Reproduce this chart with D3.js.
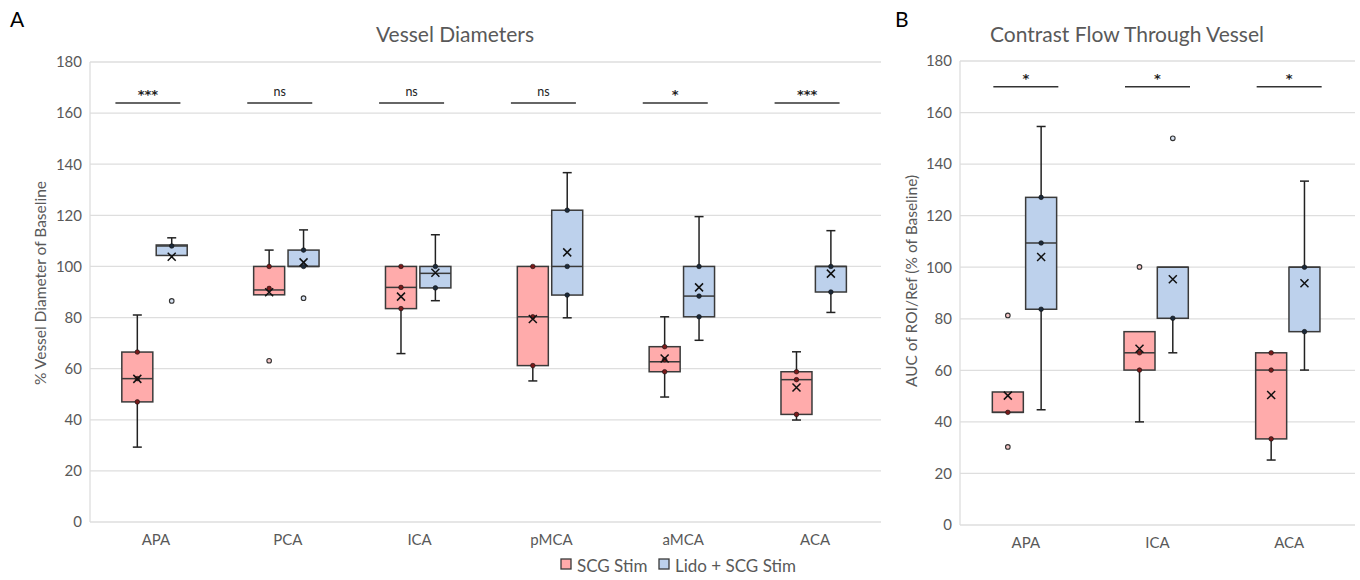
<!DOCTYPE html>
<html><head><meta charset="utf-8">
<script src="https://cdn.jsdelivr.net/npm/d3@7"></script>
<style>body{margin:0;background:#fff}svg{display:block}text{font-family:Lato,"Open Sans",sans-serif}</style>
</head><body><svg id="c" width="1360" height="580"></svg>
<script>
// ---------- Data ----------
const categoriesA = ["APA","PCA","ICA","pMCA","aMCA","ACA"];
const categoriesB = ["APA","ICA","ACA"];
const yTicks = [0,20,40,60,80,100,120,140,160,180];
const seriesNames = ["SCG Stim","Lido + SCG Stim"];

// Panel A – SCG Stim
const scgA_min  = [29.3, 88.9, 65.9, 55.2, 48.9, 39.9];
const scgA_q1   = [47.0, 88.9, 83.5, 61.2, 58.8, 42.1];
const scgA_med  = [56.1, 90.8, 91.8, 80.3, 62.7, 55.7];
const scgA_q3   = [66.5, 100, 100, 100, 68.6, 58.8];
const scgA_max  = [81.0, 106.4, 100, 100, 80.3, 66.6];
const scgA_mean = [56.0, 89.9, 88.2, 79.4, 64.0, 52.6];
const scgA_pts  = [[66.5,56.1,47.0],[100,91.4],[100,91.8,83.5],[100,80.3,61.2],[68.6,63.5,58.8],[58.8,55.7,42.1]];
const scgA_out  = [[],[63.1],[],[],[],[]];
// Panel A – Lido + SCG Stim
const lidoA_min  = [104.3, 100, 86.6, 79.9, 71.1, 82.0];
const lidoA_q1   = [104.3, 100, 91.6, 88.8, 80.3, 90.0];
const lidoA_med  = [108.0, 100, 97.3, 100, 88.4, 100];
const lidoA_q3   = [108.4, 106.4, 100, 122.0, 100, 100];
const lidoA_max  = [111.2, 114.3, 112.4, 136.7, 119.5, 114.0];
const lidoA_mean = [103.8, 101.6, 97.5, 105.5, 91.8, 97.2];
const lidoA_pts  = [[108.0],[106.4,100],[100,91.6],[122.0,100,88.8],[100,88.4,80.3],[100,90.0]];
const lidoA_out  = [[86.5],[87.6],[],[],[],[]];
const sigA = ["***","ns","ns","ns","*","***"];
const sigA_level = 164;

// Panel B – SCG Stim
const scgB_min  = [43.7, 40.0, 25.2];
const scgB_q1   = [43.7, 60.1, 33.4];
const scgB_med  = [43.7, 66.8, 60.1];
const scgB_q3   = [51.6, 75.0, 66.8];
const scgB_max  = [51.6, 75.0, 66.8];
const scgB_mean = [50.2, 68.4, 50.4];
const scgB_pts  = [[43.7],[66.8,60.1],[66.8,60.1,33.4]];
const scgB_out  = [[81.3,30.3],[100.1],[]];
// Panel B – Lido + SCG Stim
const lidoB_min  = [44.7, 66.8, 60.1];
const lidoB_q1   = [83.7, 80.2, 75.0];
const lidoB_med  = [109.4, 100, 100];
const lidoB_q3   = [127.1, 100, 100];
const lidoB_max  = [154.6, 100, 133.4];
const lidoB_mean = [104.0, 95.3, 93.8];
const lidoB_pts  = [[127.1,109.4,83.7],[80.2],[100,75.0]];
const lidoB_out  = [[],[150.0],[]];
const sigB = ["*","*","*"];
const sigB_level = 170;

// ---------- Styles ----------
const fills = ["#ffabab", "#bdd1ec"];
const ptFills = ["#7a1a1a", "#1c2a3a"];
const outFills = ["#f4c7c7", "#d8e3f3"];
const stroke = "#3a3a3a";
const gridCol = "#dedede";
const textCol = "#595959";

const svg = d3.select("#c");

function build(cats, s0, s1) {
  return cats.map((c,i)=>({cat:c, series:[0,1].map(k=>{
    const s = k===0 ? s0 : s1;
    return {k, min:s.min[i], q1:s.q1[i], med:s.med[i], q3:s.q3[i], max:s.max[i], mean:s.mean[i], pts:s.pts[i], out:s.out[i]};
  })}));
}

function panel(opts) {
  const {x0,x1,y0,y1,cats,data,sig,sigLevel,sigOff,title,titleX,ytitle,ytitleX,ytitleY,letter,letterX,offs} = opts;
  const g = svg.append("g");
  const x = d3.scaleBand().domain(cats).range([x0,x1]);
  const y = d3.scaleLinear().domain([0,180]).range([y1,y0]);

  // grid
  g.selectAll("line.grid").data(yTicks).join("line")
    .attr("x1",x0).attr("x2",x1).attr("y1",d=>y(d)).attr("y2",d=>y(d))
    .attr("stroke",gridCol).attr("stroke-width",1.3);
  g.append("line").attr("x1",x0).attr("x2",x0).attr("y1",y0).attr("y2",y1)
    .attr("stroke",gridCol).attr("stroke-width",1.3);

  // y axis labels
  const ax = g.append("g").attr("transform",`translate(${x0},0)`)
    .call(d3.axisLeft(y).tickValues(yTicks).tickSize(0).tickPadding(8));
  ax.select(".domain").remove();
  ax.selectAll("text").attr("fill",textCol).style("font-size","15px").style("font-family","Lato,'Open Sans',sans-serif");

  // x axis labels
  const bx = g.append("g").attr("transform",`translate(0,${y1})`)
    .call(d3.axisBottom(x).tickSize(0).tickPadding(12));
  bx.select(".domain").remove();
  bx.selectAll("text").attr("fill",textCol).style("font-size","15px").style("font-family","Lato,'Open Sans',sans-serif");

  // titles
  g.append("text").attr("x",titleX).attr("y",42).attr("text-anchor","middle")
    .attr("fill",textCol).style("font-size","21px").text(title);
  g.append("text").attr("transform",`translate(${ytitleX},${ytitleY}) rotate(-90)`)
    .attr("text-anchor","middle").attr("fill",textCol).style("font-size","15.5px").text(ytitle);
  g.append("text").attr("x",letterX).attr("y",27).attr("fill","#000").style("font-size","21px").text(letter);

  // significance
  const sg = g.selectAll("g.sig").data(cats).join("g");
  sg.append("line")
    .attr("x1",d=>x(d)+x.bandwidth()/2+sigOff-32.5).attr("x2",d=>x(d)+x.bandwidth()/2+sigOff+32.5)
    .attr("y1",y(sigLevel)).attr("y2",y(sigLevel)).attr("stroke","#333").attr("stroke-width",1.5);
  sg.append("text").attr("x",d=>x(d)+x.bandwidth()/2+sigOff)
    .attr("y",(d,i)=>y(sigLevel) - (sig[i]==="ns"?7:4))
    .attr("text-anchor","middle").attr("fill","#222")
    .style("font-family",(d,i)=>sig[i]==="ns"?"Lato,sans-serif":"'DejaVu Sans',sans-serif")
    .style("font-weight",(d,i)=>sig[i]==="ns"?"normal":"bold")
    .style("font-size",(d,i)=>sig[i]==="ns"?"12.5px":"13px").text((d,i)=>sig[i]);

  // boxes
  const W = 31, cap = 9;
  data.forEach(d=>{
    const c = x(d.cat)+x.bandwidth()/2;
    d.series.forEach(s=>{
      const cx = c + offs[s.k];
      const bg = g.append("g");
      bg.append("line").attr("x1",cx).attr("x2",cx).attr("y1",y(s.q3)).attr("y2",y(s.max)).attr("stroke","#222").attr("stroke-width",1.5);
      bg.append("line").attr("x1",cx).attr("x2",cx).attr("y1",y(s.q1)).attr("y2",y(s.min)).attr("stroke","#222").attr("stroke-width",1.5);
      if (s.max > s.q3) bg.append("line").attr("x1",cx-cap/2).attr("x2",cx+cap/2).attr("y1",y(s.max)).attr("y2",y(s.max)).attr("stroke","#222").attr("stroke-width",1.5);
      if (s.min < s.q1) bg.append("line").attr("x1",cx-cap/2).attr("x2",cx+cap/2).attr("y1",y(s.min)).attr("y2",y(s.min)).attr("stroke","#222").attr("stroke-width",1.5);
      bg.append("rect").attr("x",cx-W/2).attr("width",W).attr("y",y(s.q3)).attr("height",y(s.q1)-y(s.q3))
        .attr("fill",fills[s.k]).attr("stroke",stroke).attr("stroke-width",1.5);
      bg.append("line").attr("x1",cx-W/2).attr("x2",cx+W/2).attr("y1",y(s.med)).attr("y2",y(s.med)).attr("stroke",stroke).attr("stroke-width",1.5);
      bg.selectAll("circle.pt").data(s.pts).join("circle").attr("cx",cx).attr("cy",v=>y(v)).attr("r",2.3)
        .attr("fill",ptFills[s.k]).attr("stroke","#111").attr("stroke-width",0.6);
      bg.selectAll("circle.out").data(s.out).join("circle").attr("cx",cx).attr("cy",v=>y(v)).attr("r",2.3)
        .attr("fill",outFills[s.k]).attr("stroke","#333").attr("stroke-width",1.1);
      const my = y(s.mean), m = 4;
      bg.append("path").attr("d",`M${cx-m},${my-m}L${cx+m},${my+m}M${cx-m},${my+m}L${cx+m},${my-m}`)
        .attr("stroke","#111").attr("stroke-width",1.5).attr("fill","none");
    });
  });
}

const dataA = build(categoriesA,
  {min:scgA_min,q1:scgA_q1,med:scgA_med,q3:scgA_q3,max:scgA_max,mean:scgA_mean,pts:scgA_pts,out:scgA_out},
  {min:lidoA_min,q1:lidoA_q1,med:lidoA_med,q3:lidoA_q3,max:lidoA_max,mean:lidoA_mean,pts:lidoA_pts,out:lidoA_out});
const dataB = build(categoriesB,
  {min:scgB_min,q1:scgB_q1,med:scgB_med,q3:scgB_q3,max:scgB_max,mean:scgB_mean,pts:scgB_pts,out:scgB_out},
  {min:lidoB_min,q1:lidoB_q1,med:lidoB_med,q3:lidoB_q3,max:lidoB_max,mean:lidoB_mean,pts:lidoB_pts,out:lidoB_out});

panel({x0:90,x1:881,y0:62,y1:522,cats:categoriesA,data:dataA,sig:sigA,sigLevel:sigA_level,sigOff:-8,
  title:"Vessel Diameters",titleX:455,ytitle:"% Vessel Diameter of Baseline",ytitleX:46,ytitleY:283,
  letter:"A",letterX:10,offs:[-18.6,15.8]});
panel({x0:960,x1:1355,y0:61,y1:525,cats:categoriesB,data:dataB,sig:sigB,sigLevel:sigB_level,sigOff:0,
  title:"Contrast Flow Through Vessel",titleX:1127,ytitle:"AUC of ROI/Ref (% of Baseline)",ytitleX:917,ytitleY:281,
  letter:"B",letterX:895,offs:[-18,15.3]});

// legend
const lg = svg.append("g");
const legX = [561, 659];
seriesNames.forEach((n,i)=>{
  lg.append("rect").attr("x",legX[i]).attr("y",559).attr("width",10).attr("height",10)
    .attr("fill",fills[i]).attr("stroke",stroke).attr("stroke-width",1.3);
  lg.append("text").attr("x",legX[i]+16).attr("y",572).attr("fill",textCol).style("font-size","17px").text(n);
});
</script></body></html>
